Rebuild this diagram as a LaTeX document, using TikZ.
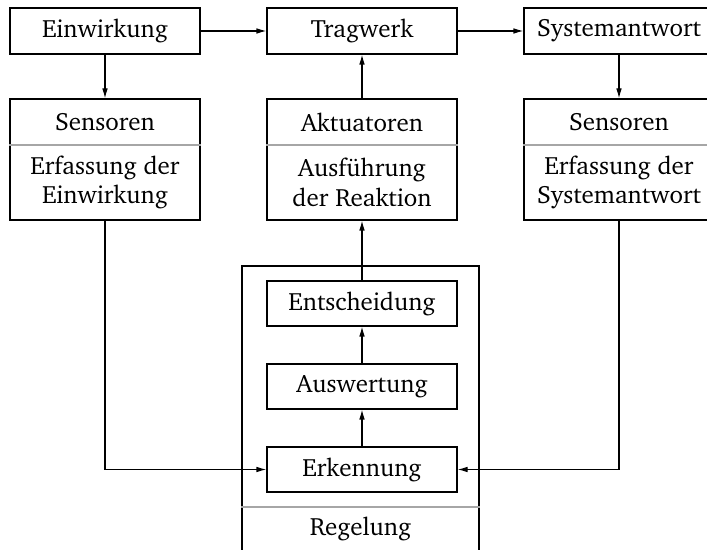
\documentclass[tikz,border=0pt]{standalone}
\usepackage[T1]{fontenc}
\usepackage{charter}
\usetikzlibrary{arrows.meta}
\begin{document}
\begin{tikzpicture}[x=0.5pt,y=-0.5pt,
 box/.style={draw, line width=0.55pt, minimum width=95pt, minimum height=23pt, inner sep=0pt, font=\fontsize{12.5}{14.8}\selectfont},
 tbox/.style={draw, line width=0.55pt, minimum width=95pt, minimum height=60.5pt, inner sep=0pt},
 lbl/.style={font=\fontsize{12.5}{14.8}\selectfont, align=center, inner sep=0pt},
 sep/.style={draw=black!35, line width=0.55pt},
 arr/.style={line width=0.55pt, -{Latex[length=5pt,width=2.8pt]}}]
\useasboundingbox (0,0) rectangle (707,550);
\clip (0,0) rectangle (707,550);
% top row
\node[box] (einw) at (105,31) {Einwirkung};
\node[box] (trag) at (362,31) {Tragwerk};
\node[box] (sysa) at (619,31) {Systemantwort};
% second row
\node[tbox] (sensL) at (105,159.5) {};
\draw[sep] (sensL.west |- 0,145) -- (sensL.east |- 0,145);
\node[lbl] (sensLa) at (105,122) {Sensoren};
\node[lbl] (sensLb) at (105,182.5) {Erfassung der\\Einwirkung};
\node[tbox] (akt) at (362,159.5) {};
\draw[sep] (akt.west |- 0,145) -- (akt.east |- 0,145);
\node[lbl] (akta) at (362,122) {Aktuatoren};
\node[lbl] (aktb) at (362,182.5) {Ausf\"uhrung\\der Reaktion};
\node[tbox] (sensR) at (619,159.5) {};
\draw[sep] (sensR.west |- 0,145) -- (sensR.east |- 0,145);
\node[lbl] (sensRa) at (619,122) {Sensoren};
\node[lbl] (sensRb) at (619,182.5) {Erfassung der\\Systemantwort};
% Regelung frame
\node[draw, line width=0.55pt, minimum width=118.5pt, minimum height=147pt, inner sep=0pt] (regel) at (360.5,413) {};
\draw[sep] (regel.west |- 0,507) -- (regel.east |- 0,507);
\node[lbl] (regellbl) at (360.5,529) {Regelung};
\node[box, minimum height=22.5pt] (ents) at (362,303.5) {Entscheidung};
\node[box, minimum height=22.5pt] (ausw) at (362,386.5) {Auswertung};
\node[box, minimum height=22.5pt] (erk) at (362,469.5) {Erkennung};
% connectors
\draw[arr] (einw) -- (sensL);
\draw[arr] (einw) -- (trag);
\draw[arr] (trag) -- (sysa);
\draw[arr] (akt) -- (trag);
\draw[arr] (sysa) -- (sensR);
\draw[arr] (ents) -- (akt);
\draw[arr] (ausw) -- (ents);
\draw[arr] (erk) -- (ausw);
\draw[arr] (sensL.south) |- (erk.west);
\draw[arr] (sensR.south) |- (erk.east);
\end{tikzpicture}
\end{document}
